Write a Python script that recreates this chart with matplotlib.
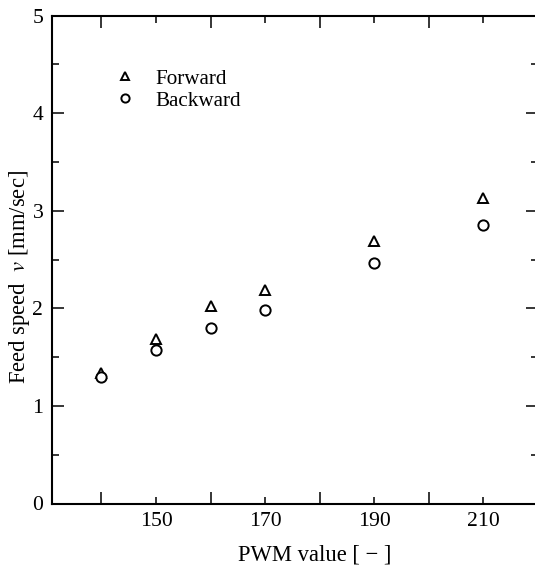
import matplotlib
matplotlib.use("Agg")
import matplotlib.pyplot as plt
from matplotlib.ticker import FixedLocator, MultipleLocator

pwm = [140, 150, 160, 170, 190, 210]
forward = [1.34, 1.69, 2.02, 2.19, 2.69, 3.13]
backward = [1.30, 1.57, 1.80, 1.98, 2.47, 2.85]
x_labeled = [150, 170, 190, 210]
x_unlabeled = [140, 160, 180, 200]

plt.rcParams['font.family'] = ['Liberation Serif', 'DejaVu Serif']
plt.rcParams['mathtext.fontset'] = 'stix'

FS_TICK = 15.6
FS_LAB = 16.3
FS_LEG = 15.2

fig = plt.figure(figsize=(5.35, 5.67), dpi=100)
W, H = 535, 567
left_px, right_px, top_px, bot_px = 51.7, 538.0, 15.7, 503.5
ax = fig.add_axes([left_px / W, 1 - bot_px / H, (right_px - left_px) / W, (bot_px - top_px) / H])

ax.plot(pwm, forward, linestyle='none', marker='^', ms=7.0, mfc='white', mec='black', mew=1.4, label='Forward')
ax.plot(pwm, backward, linestyle='none', marker='o', ms=7.4, mfc='white', mec='black', mew=1.4, label='Backward')

ax.set_xlim(130.9, 220)
ax.set_ylim(0, 5)

ax.xaxis.set_major_locator(FixedLocator(x_labeled))
ax.xaxis.set_minor_locator(FixedLocator(x_unlabeled))
ax.yaxis.set_major_locator(MultipleLocator(1))
ax.yaxis.set_minor_locator(MultipleLocator(0.5))

ax.tick_params(axis='x', which='major', direction='in', length=4.7, width=1.1, top=True, labelsize=FS_TICK, pad=6)
ax.tick_params(axis='x', which='minor', direction='in', length=8.6, width=1.1, top=True)
ax.tick_params(axis='y', which='major', direction='in', length=8.4, width=1.1, right=True, labelsize=FS_TICK, pad=6)
ax.tick_params(axis='y', which='minor', direction='in', length=4.8, width=1.1, right=True)

for s in ax.spines.values():
    s.set_linewidth(1.5)

ax.set_xlabel('PWM value [ \u2212 ]', fontsize=FS_LAB)
ax.xaxis.set_label_coords((315 - left_px) / (right_px - left_px), (bot_px - 544) / (bot_px - top_px))
ax.set_ylabel('Feed speed  $\\mathit{v}$ [mm/sec]', fontsize=FS_LAB)
ax.yaxis.set_label_coords((32 - left_px) / (right_px - left_px), (bot_px - 277) / (bot_px - top_px))

leg = ax.legend(loc='upper left', bbox_to_anchor=((114 - left_px) / (right_px - left_px), (bot_px - 69) / (bot_px - top_px)),
                frameon=False, fontsize=FS_LEG, markerscale=0.8, handlelength=1.0, handletextpad=0.95,
                borderpad=0, borderaxespad=0, labelspacing=0.1)

fig.savefig('out.png', dpi=100)
